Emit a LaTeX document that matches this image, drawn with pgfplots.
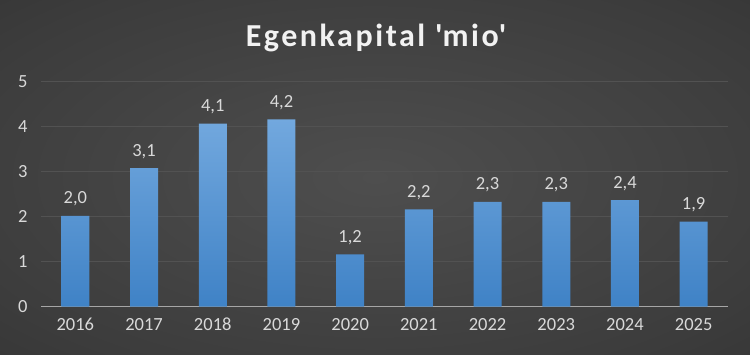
\documentclass[border=0pt]{standalone}
\usepackage{fontspec}
\setmainfont{Carlito}
\usepackage{pgfplots}
\pgfplotsset{compat=1.18}
\definecolor{bgA}{HTML}{4E4E4E}
\definecolor{bgB}{HTML}{3C3C3C}
\definecolor{bgC}{HTML}{2A2A2A}
\definecolor{bgD}{HTML}{222222}
\definecolor{bartop}{HTML}{72A8DE}
\definecolor{barbot}{HTML}{3F82C6}
\definecolor{lab}{HTML}{D9D9D9}
\definecolor{gridc}{HTML}{525252}
\definecolor{zeroc}{HTML}{A6A6A6}
\pgfdeclareradialshading{bgshade}{\pgfpoint{0bp}{0bp}}{color(0bp)=(bgA); color(30bp)=(bgB); color(55bp)=(bgC); color(72bp)=(bgD)}
\pgfplotstableread{
x val
0 2.02
1 3.08
2 4.07
3 4.16
4 1.16
5 2.16
6 2.33
7 2.33
8 2.37
9 1.89
}\egdata
\begin{document}
\begin{tikzpicture}
\shade[shading=bgshade] (0,0) rectangle (750pt,355pt);
\node[anchor=base, inner sep=0pt, text=white!95!black,
  font=\bfseries\fontsize{32}{34}\selectfont\addfontfeature{LetterSpace=8}] at (376pt,308pt) {Egenkapital \textquotesingle mio\textquotesingle};
\begin{axis}[
  at={(41pt,48.3pt)}, anchor=south west,
  scale only axis, width=687pt, height=225pt,
  xmin=-0.5, xmax=9.5, ymin=0, ymax=5,
  xtick=data,
  xticklabels={2016,2017,2018,2019,2020,2021,2022,2023,2024,2025},
  ytick={1,2,3,4,5},
  extra y ticks={0},
  extra y tick style={grid style={color=zeroc, line width=1.6pt}},
  ymajorgrids,
  grid style={color=gridc, line width=1.3pt},
  axis line style={draw=none},
  major tick length=0pt,
  tick label style={text=lab, font=\fontsize{18.5}{20}\selectfont},
  /pgf/number format/assume math mode=true,
  yticklabel style={xshift=-10pt},
  xticklabel style={yshift=-8pt},
  nodes near coords,
  nodes near coords style={text=lab, font=\fontsize{18.5}{20}\selectfont, yshift=6pt,
    /pgf/number format/.cd, fixed, fixed zerofill, precision=1, use comma},
]
\addplot[ybar, bar width=28pt, draw=none, top color=bartop, bottom color=barbot] table[x=x, y=val] {\egdata};
\end{axis}
\end{tikzpicture}
\end{document}
